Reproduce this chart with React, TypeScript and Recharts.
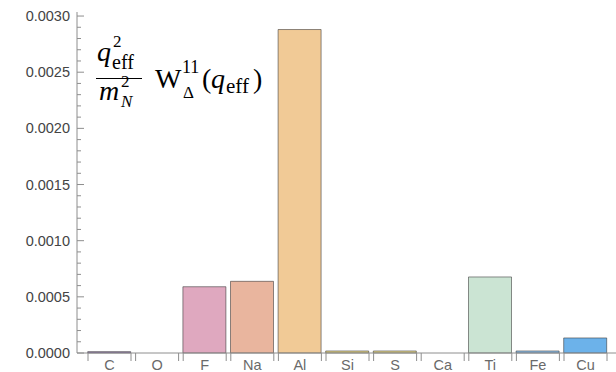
import React from "react";
import { Bar, BarChart, Cell, XAxis, YAxis } from "recharts";

// element targets and their weighted response values
const elements = ["C", "O", "F", "Na", "Al", "Si", "S", "Ca", "Ti", "Fe", "Cu"];
const response = [0.000012, 0, 0.00059, 0.000638, 0.00288, 0.000018, 0.000018, 0, 0.000677, 0.000018, 0.000134];
const fills = ["#9a78b8", "#c9a0c8", "#dfa8bf", "#e9b59e", "#f1ca96", "#e4d489", "#e6d78d", "#d9e3a8", "#cbe4d3", "#8fc0ea", "#6cb2ea"];

const majorTicks = [0, 0.0005, 0.001, 0.0015, 0.002, 0.0025, 0.003];
const yTicks = Array.from({ length: 31 }, (_, i) => Number((i * 0.0001).toFixed(4)));

const data = elements.map((el, i) => ({ el, value: response[i] }));

const AXIS = "#8e8e8e";
const BAR_W = 43;
const SANS = '"Liberation Sans", Arial, sans-serif';
const SERIF = '"Liberation Serif", "Times New Roman", serif';

function YTick(props: any) {
  const { x, y, payload } = props;
  const axisX = x + 7;
  const major = majorTicks.some((t) => Math.abs(t - payload.value) < 1e-9);
  return (
    <g>
      <line x1={axisX} x2={axisX + (major ? 7 : 4)} y1={y} y2={y} stroke={AXIS} />
      {major && (
        <text x={x} y={y} dy={5} textAnchor="end" fill="#444" style={{ fontFamily: SANS, fontSize: 14.5 }}>
          {payload.value.toFixed(4)}
        </text>
      )}
    </g>
  );
}

function XTick(props: any) {
  const { x, y, payload } = props;
  const half = BAR_W / 2;
  return (
    <g>
      <line x1={x - half} x2={x - half} y1={y} y2={y + 8} stroke={AXIS} />
      <line x1={x + half} x2={x + half} y1={y} y2={y + 8} stroke={AXIS} />
      <text x={x} y={y} dy={17} textAnchor="middle" fill="#6a6a6a" style={{ fontFamily: SANS, fontSize: 14.5 }}>
        {payload.value}
      </text>
    </g>
  );
}

function Formula() {
  const t = (size: number, italic = false) => ({ fontFamily: SERIF, fontSize: size, fontStyle: italic ? "italic" : "normal" });
  return (
    <svg width={616} height={372} style={{ position: "absolute", left: 0, top: 0, pointerEvents: "none" }}>
      <g fill="#000">
        <text x={97} y={61} style={t(28, true)}>q</text>
        <text x={113} y={47} style={t(17)}>2</text>
        <text x={112} y={69} style={t(20)}>eff</text>
        <line x1={96} x2={142} y1={78.5} y2={78.5} stroke="#000" strokeWidth={1.2} />
        <text x={99} y={100} style={t(28, true)}>m</text>
        <text x={121} y={87} style={t(17)}>2</text>
        <text x={121} y={107} style={t(17, true)}>N</text>
        <text x={155} y={88} style={t(28)}>W</text>
        <text x={182} y={73} style={t(18)}>11</text>
        <text x={183} y={98} style={t(17)}>Δ</text>
        <text x={202} y={88} style={t(28)}>(</text>
        <text x={211} y={88} style={t(28, true)}>q</text>
        <text x={226} y={93} style={t(21)}>eff</text>
        <text x={253} y={88} style={t(28)}>)</text>
      </g>
    </svg>
  );
}

export default function App() {
  return (
    <div style={{ position: "fixed", left: 0, top: 0, width: 616, height: 372, background: "#fff" }}>
      <BarChart width={616} height={372} data={data} margin={{ top: 12, right: 0, bottom: 0, left: 0 }}>
        <XAxis
          dataKey="el"
          height={19}
          stroke={AXIS}
          tickLine={false}
          tickSize={0}
          tickMargin={0}
          tick={<XTick />}
          interval={0}
          padding={{ left: 8.7, right: 6.7 }}
        />
        <YAxis
          width={77}
          domain={[0, 0.003036]}
          ticks={yTicks}
          interval={0}
          stroke={AXIS}
          tickLine={false}
          tickSize={0}
          tickMargin={7}
          tick={<YTick />}
        />
        <Bar dataKey="value" barSize={BAR_W} isAnimationActive={false} stroke="rgba(50,50,50,0.55)" strokeWidth={1}>
          {data.map((d, i) => (
            <Cell key={d.el} fill={fills[i]} />
          ))}
        </Bar>
      </BarChart>
      <Formula />
    </div>
  );
}
